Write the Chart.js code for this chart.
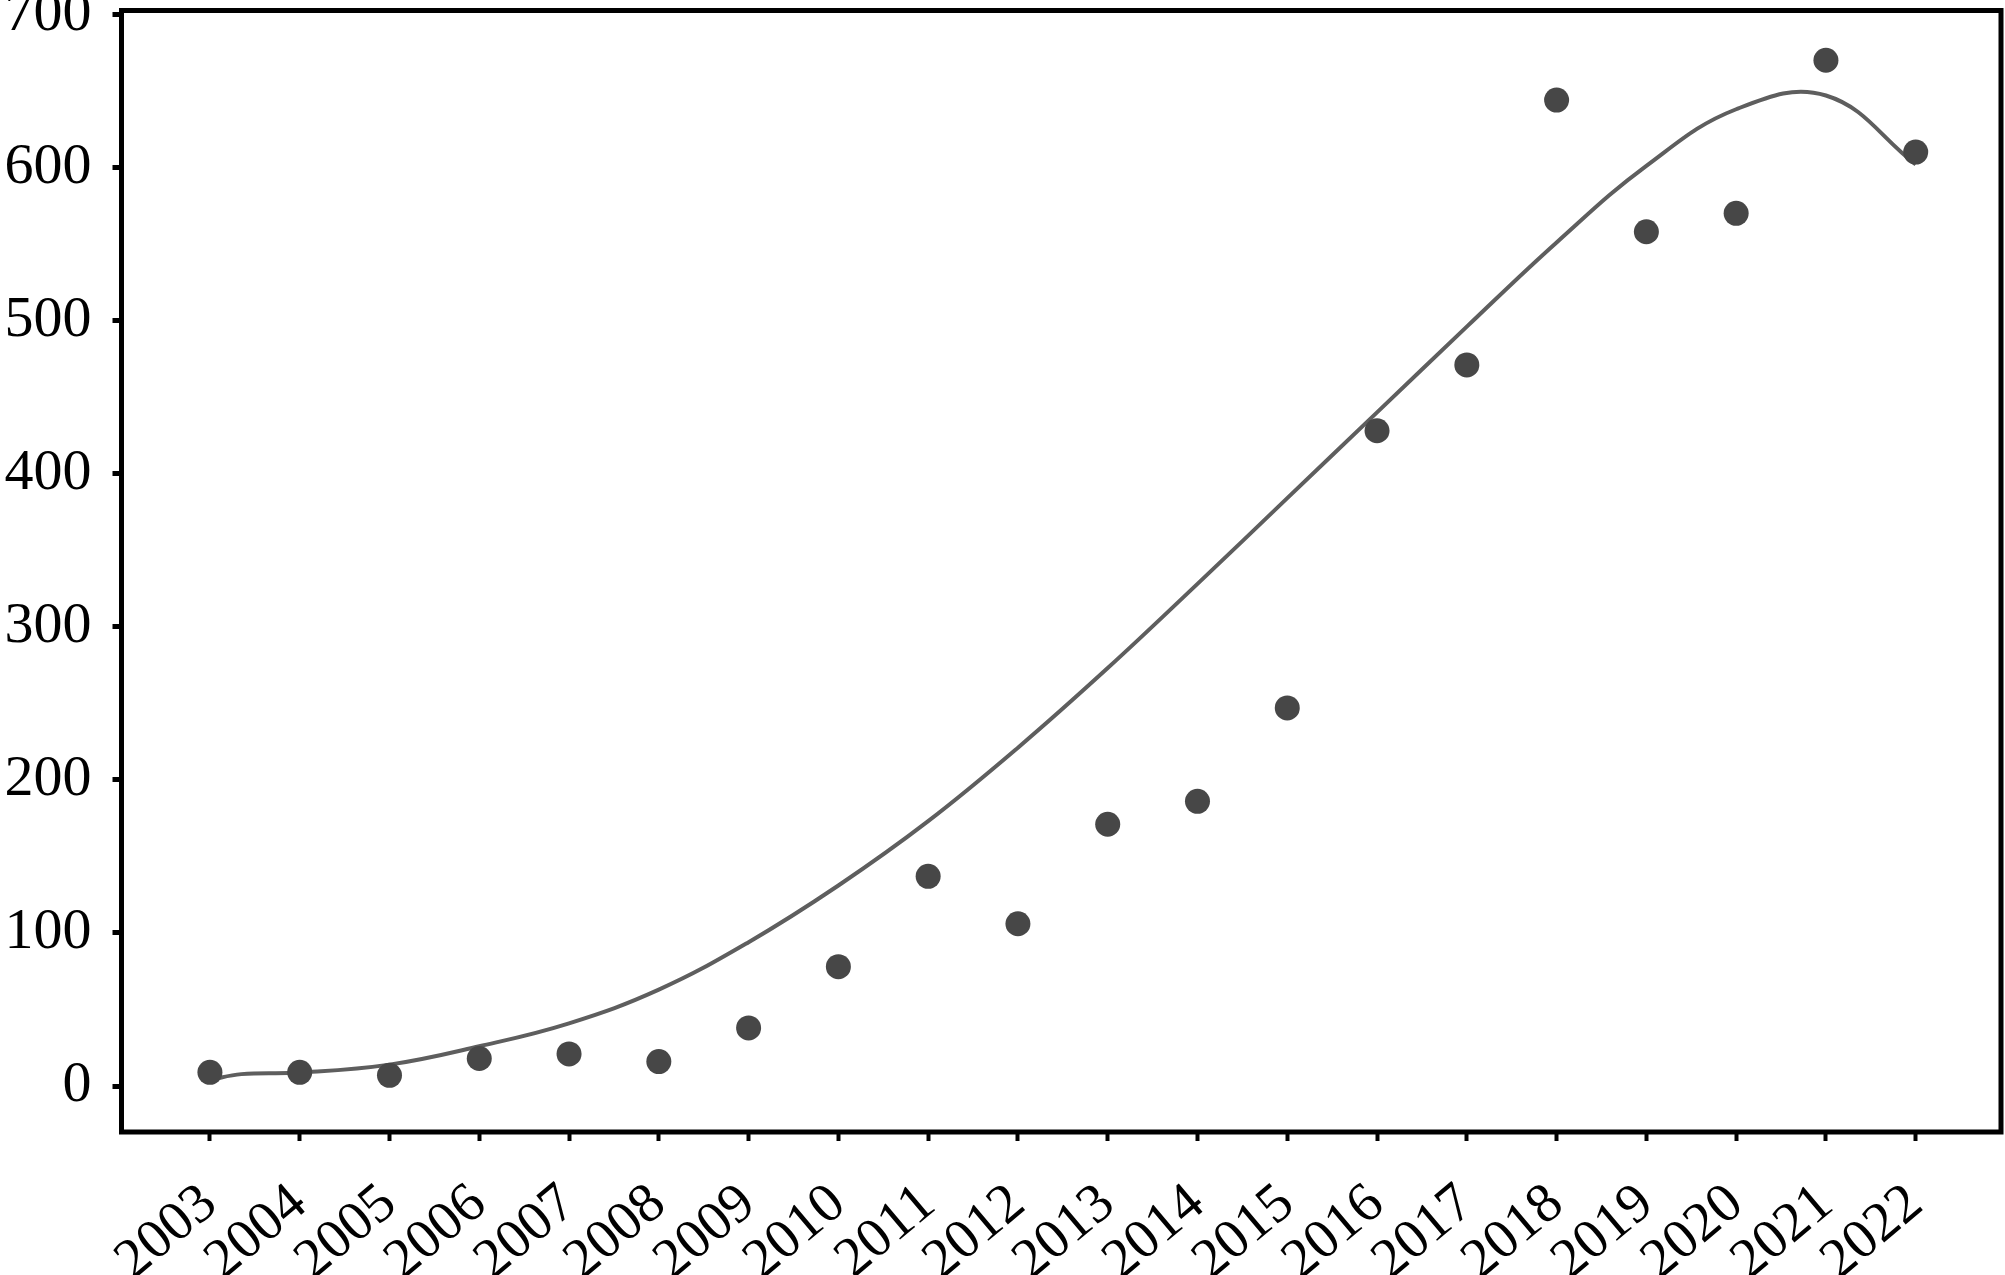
<!DOCTYPE html>
<html>
<head>
<meta charset="utf-8">
<title>Trend 2003-2022</title>
<script src="https://cdn.jsdelivr.net/npm/chart.js@4/dist/chart.umd.min.js"></script>
<style>
  html, body { margin: 0; padding: 0; background: #fff; }
  #cv { display: block; }
</style>
</head>
<body>
<canvas id="cv" width="2005" height="1275"></canvas>
<script>
var YEARS = [2003, 2004, 2005, 2006, 2007, 2008, 2009, 2010, 2011, 2012,
             2013, 2014, 2015, 2016, 2017, 2018, 2019, 2020, 2021, 2022];
var OBSERVED = [9, 9, 7, 18, 21, 16, 38, 78, 137, 106,
                171, 186, 247, 428, 471, 644, 558, 570, 670, 610];

// fitted curve, read at the years plus the small kink after the start
var FIT_X = [2003, 2003.35, 2004, 2005, 2006, 2007, 2008, 2009, 2010, 2011, 2012,
             2013, 2014, 2015, 2016, 2017, 2018, 2019, 2020, 2021, 2022];
var FIT_Y = [4, 7.8, 8.8, 14, 26, 41, 63, 94, 131, 173, 221,
             273, 328, 384, 440, 496, 551, 601, 638, 647, 602];

var Y_TICKS = [0, 100, 200, 300, 400, 500, 600, 700];

var INK = '#000', DOT = '#474747', LINE = '#5e5e5e';
Chart.defaults.font.family = "'Liberation Serif', 'Times New Roman', serif";
Chart.defaults.color = INK;

function pairs(xs, ys) { return xs.map(function (x, i) { return { x: x, y: ys[i] }; }); }

// frame around the plot area
var boxPlugin = {
  id: 'box',
  afterDatasetsDraw: function (chart) {
    var a = chart.chartArea, c = chart.ctx;
    c.save();
    c.strokeStyle = INK; c.lineWidth = 5;
    c.strokeRect(a.left, a.top, a.right - a.left, a.bottom - a.top);
    c.restore();
  }
};

new Chart(document.getElementById('cv'), {
  type: 'scatter',
  data: {
    datasets: [{
      data: pairs(YEARS, OBSERVED),
      pointRadius: 12.5, pointHoverRadius: 12.5, borderWidth: 0,
      backgroundColor: DOT, pointStyle: 'circle'
    }, {
      data: pairs(FIT_X, FIT_Y),
      showLine: true, pointRadius: 0, borderColor: LINE, borderWidth: 4,
      tension: 0.4, fill: false
    }]
  },
  options: {
    responsive: false, animation: false,
    layout: { autoPadding: false, padding: { left: 0, top: 10.5, right: 4, bottom: 0 } },
    plugins: { legend: { display: false }, tooltip: { enabled: false } },
    scales: {
      x: {
        type: 'linear', min: 2002.015, max: 2022.95,
        afterBuildTicks: function (s) { s.ticks = YEARS.map(function (v) { return { value: v }; }); },
        afterFit: function (s) { s.height = 143; s.paddingLeft = 0; s.paddingRight = 0; },
        grid: { drawOnChartArea: false, drawTicks: true, tickLength: 9, tickWidth: 4, tickColor: INK },
        border: { display: false },
        ticks: {
          autoSkip: false, minRotation: 40, maxRotation: 40, padding: 30,
          font: { size: 56 }, color: INK,
          callback: function (v) { return String(v); }
        }
      },
      y: {
        min: -30, max: 702.5,
        afterBuildTicks: function (s) { s.ticks = Y_TICKS.map(function (v) { return { value: v }; }); },
        afterFit: function (s) { s.width = 121.5; s.paddingTop = 0; s.paddingBottom = 0; },
        grid: { drawOnChartArea: false, drawTicks: true, tickLength: 9, tickWidth: 5, tickColor: INK },
        border: { display: false },
        ticks: { padding: 21, font: { size: 58 }, color: INK }
      }
    }
  },
  plugins: [boxPlugin]
});
</script>
</body>
</html>
